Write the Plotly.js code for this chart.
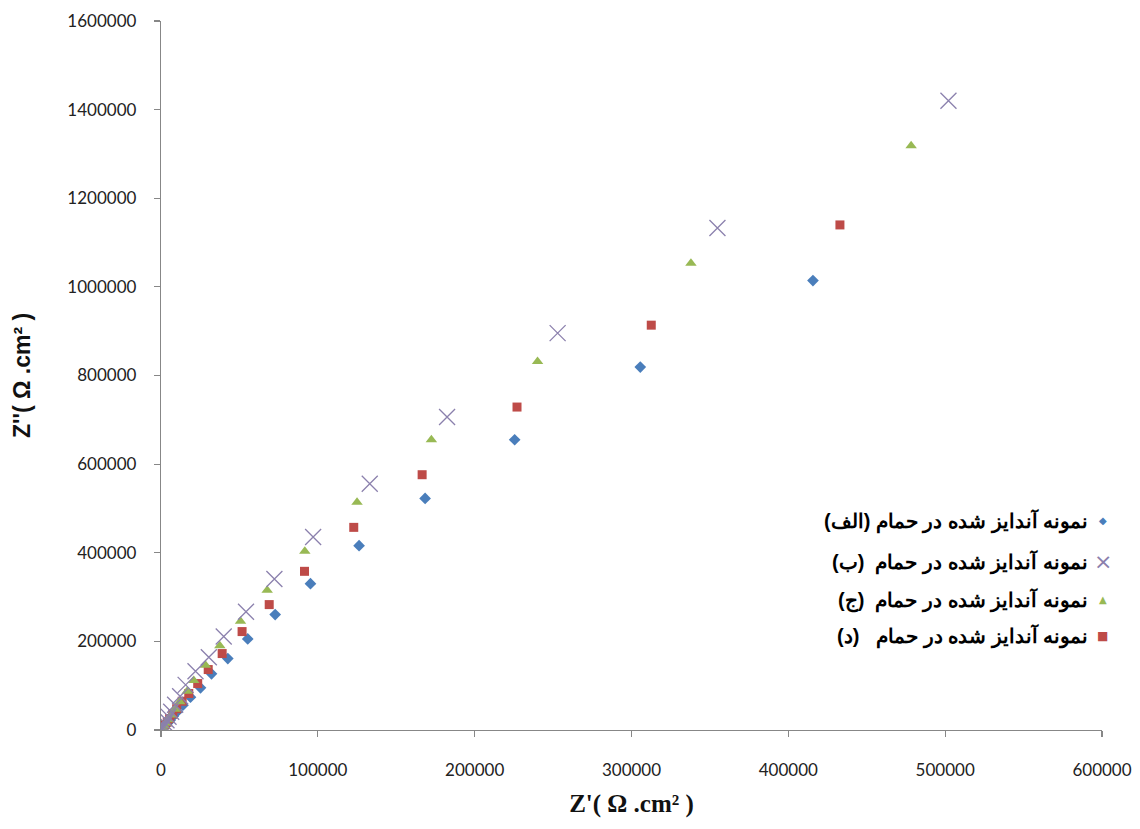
<!DOCTYPE html>
<html>
<head>
<meta charset="utf-8">
<script src="https://cdn.plot.ly/plotly-3.0.1.min.js"></script>
<style>
  html, body { margin: 0; padding: 0; background: #ffffff; }
  #chart { width: 1140px; height: 829px; }
</style>
</head>
<body>
<div id="chart"></div>
<script>
// ---- data ----
var seriesNames = [
  "نمونه آندایز شده در حمام (الف)",
  "نمونه آندایز شده در حمام  (ب)",
  "نمونه آندایز شده در حمام  (ج)",
  "نمونه آندایز شده در حمام   (د)"
];

// (الف) blue diamonds
var alefX = [415700, 305600, 225500, 168400, 126300, 95300, 72800, 55300, 42600, 32200, 25200, 18800, 14000, 10500, 7800, 5800, 4200, 3000, 2000, 1100, 500];
var alefY = [1014200, 819000, 655000, 522700, 416000, 330300, 260400, 205600, 161200, 126700, 95200, 74000, 56000, 42000, 31000, 22000, 15500, 10000, 6000, 3000, 1200];

// (ب) purple crosses
var beX = [502100, 354800, 252900, 182400, 133100, 97000, 72300, 54200, 40000, 30500, 22000, 15700, 12200, 9000, 6500, 4800, 3500, 2500, 1700, 1100, 600, 300];
var beY = [1420100, 1133000, 895600, 706200, 555800, 435600, 340900, 266700, 211000, 164000, 132600, 101800, 76300, 57000, 41000, 30000, 22000, 15000, 10000, 6000, 3000, 1200];

// (ج) green triangles
var jimX = [478300, 337900, 240100, 172400, 125000, 91700, 67700, 50700, 37500, 28400, 20900, 16700, 12000, 9000, 6500, 4500, 3000, 2000, 1200, 600];
var jimY = [1318600, 1053400, 831600, 655000, 513700, 403200, 315200, 245300, 190000, 146000, 111700, 87500, 64000, 47000, 34000, 23000, 15000, 9000, 5000, 2000];

// (د) red squares
var dalX = [432900, 312600, 227000, 166500, 122900, 91500, 69000, 51700, 39000, 30100, 23400, 17700, 13500, 10000, 7500, 5500, 4000, 2700, 1700, 900, 400];
var dalY = [1139800, 913600, 728800, 576100, 457300, 358100, 283000, 222100, 172500, 136400, 104800, 82300, 64900, 48000, 36000, 26000, 18000, 12000, 7000, 3500, 1500];

var xTitle = "Z'( Ω .cm² )";
var yTitle = "Z''( Ω .cm² )";

// ---- styles ----
var colors = { alef: "#4A7EBB", be: "#8B80AD", jim: "#98B954", dal: "#BE4B48" };

var traces = [
  { x: alefX, y: alefY, name: seriesNames[0], type: "scatter", mode: "markers",
    marker: { symbol: "diamond", size: 9, color: colors.alef } },
  { x: dalX, y: dalY, name: seriesNames[3], type: "scatter", mode: "markers",
    marker: { symbol: "square", size: 9, color: colors.dal } },
  { x: jimX, y: jimY, name: seriesNames[2], type: "scatter", mode: "markers",
    marker: { symbol: "triangle-up", size: 10, color: colors.jim } },
  { x: beX, y: beY, name: seriesNames[1], type: "scatter", mode: "markers",
    marker: { symbol: "x-thin-open", size: 16, color: colors.be, line: { width: 1.3, color: colors.be } } }
];

// legend built as text (symbol on the right, RTL labels)
var legendItems = [
  { text: seriesNames[0], glyph: "◆", color: colors.alef, size: 10 },
  { text: seriesNames[1], glyph: "×", color: colors.be, size: 22 },
  { text: seriesNames[2], glyph: "▲", color: colors.jim, size: 10 },
  { text: seriesNames[3], glyph: "■", color: colors.dal, size: 12 }
];
var plotL = 160.5, plotR = 1102.3, plotT = 20.9, plotB = 730.5;
var legendRowsPx = [521, 562, 600, 636];
var annotations = [];
legendItems.forEach(function (it, i) {
  var yp = (plotB - legendRowsPx[i]) / (plotB - plotT);
  annotations.push({
    xref: "paper", yref: "paper",
    x: (1090 - plotL) / (plotR - plotL), y: yp,
    xanchor: "right", yanchor: "middle", showarrow: false,
    text: "\u202B" + it.text + "\u202C",
    font: { family: "Liberation Sans, Arial, sans-serif", size: 20, color: "#000000", weight: "bold" }
  });
  annotations.push({
    xref: "paper", yref: "paper",
    x: (1103 - plotL) / (plotR - plotL), y: yp,
    xanchor: "center", yanchor: "middle", showarrow: false,
    text: it.glyph,
    font: { family: "DejaVu Sans, sans-serif", size: it.size, color: it.color }
  });
});

var axisCommon = {
  showgrid: false, zeroline: false, showline: true,
  linecolor: "#878787", linewidth: 1.2,
  ticks: "outside", ticklen: 6, tickcolor: "#878787", tickwidth: 1.2,
  tickfont: { family: "Lato, Open Sans, sans-serif", size: 17, color: "#222222" },
  tickformat: "d", exponentformat: "none"
};

var layout = {
  width: 1140, height: 829,
  paper_bgcolor: "#ffffff", plot_bgcolor: "#ffffff",
  margin: { l: 160.5, r: 37.7, t: 20.9, b: 98.5, pad: 0 },
  showlegend: false,
  separators: ".",
  xaxis: Object.assign({}, axisCommon, {
    range: [0, 600000], dtick: 100000, tick0: 0,
    ticklabelstandoff: 18,
    title: { text: xTitle, standoff: 16,
      font: { family: "Liberation Serif, Times New Roman, serif", size: 25, color: "#111111", weight: "bold" } },
    automargin: false
  }),
  yaxis: Object.assign({}, axisCommon, {
    range: [0, 1600000], dtick: 200000, tick0: 0,
    ticklabelstandoff: 14,
    title: { text: yTitle, standoff: 30,
      font: { family: "Liberation Sans, Arial, sans-serif", size: 23, color: "#111111", weight: "bold" } },
    automargin: false
  }),
  annotations: annotations
};

Plotly.newPlot("chart", traces, layout, { staticPlot: true, displayModeBar: false });
</script>
</body>
</html>
